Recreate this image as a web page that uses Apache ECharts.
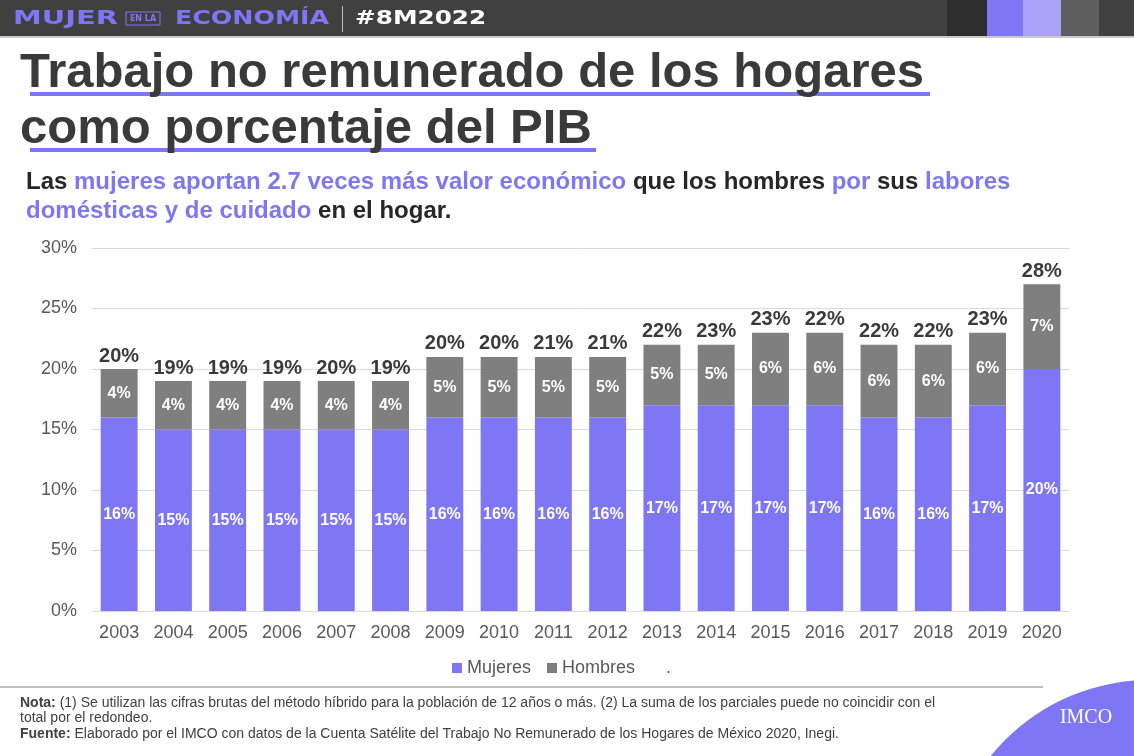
<!DOCTYPE html>
<html>
<head>
<meta charset="utf-8">
<script src="https://cdn.jsdelivr.net/npm/echarts@6/dist/echarts.min.js"></script>
<style>
  html, body { margin: 0; padding: 0; background: #fff; }
  #chart { width: 1134px; height: 756px; }
</style>
</head>
<body>
<div id="chart"></div>
<script>
// datos (% del PIB)
const years = ['2003', '2004', '2005', '2006', '2007', '2008', '2009', '2010', '2011',
  '2012', '2013', '2014', '2015', '2016', '2017', '2018', '2019', '2020'];
const mujeres = [16, 15, 15, 15, 15, 15, 16, 16, 16, 16, 17, 17, 17, 17, 16, 16, 17, 20];
const hombres = [4, 4, 4, 4, 4, 4, 5, 5, 5, 5, 5, 5, 6, 6, 6, 6, 6, 7];
const totales = [20, 19, 19, 19, 20, 19, 20, 20, 21, 21, 22, 23, 23, 22, 22, 22, 23, 28];

const morado = '#7F76F5';
const gris = '#7F7F7F';
const oscuro = '#3A3A3A';
const fuente = '"Liberation Sans", Arial, sans-serif';

const chart = echarts.init(document.getElementById('chart'));

const option = {
  backgroundColor: '#fff',
  animation: false,
  textStyle: { fontFamily: fuente },
  title: [
    {
      text: 'Trabajo no remunerado de los hogares\ncomo porcentaje del PIB',
      left: 20, top: 45, padding: 0, z: 10,
      textStyle: { fontSize: 49, fontWeight: 'bold', color: oscuro, lineHeight: 56, fontFamily: fuente }
    },
    {
      text: '{d|Las }{p|mujeres aportan 2.7 veces más valor económico}{d| que los hombres }{p|por}{d| sus }{p|labores}\n' +
        '{p|domésticas y de cuidado}{d| en el hogar.}',
      left: 26, top: 168, padding: 0,
      textStyle: {
        rich: {
          d: { fontSize: 24, fontWeight: 'bold', color: '#262626', lineHeight: 29, fontFamily: fuente },
          p: { fontSize: 24, fontWeight: 'bold', color: '#7F77F2', lineHeight: 29, fontFamily: fuente }
        }
      }
    },
    {
      text: '{b|Nota:} (1) Se utilizan las cifras brutas del método híbrido para la población de 12 años o más. (2) La suma de los parciales puede no coincidir con el\n' +
        'total por el redondeo.\n' +
        '{b|Fuente:} Elaborado por el IMCO con datos de la Cuenta Satélite del Trabajo No Remunerado de los Hogares de México 2020, Inegi.',
      left: 20, top: 695, padding: 0,
      textStyle: {
        fontSize: 14, color: '#404040', lineHeight: 15.5, fontWeight: 'normal', fontFamily: fuente,
        rich: {
          b: { fontSize: 14, fontWeight: 'bold', color: '#404040', lineHeight: 15.5, fontFamily: fuente }
        }
      }
    }
  ],
  legend: {
    data: ['Mujeres', 'Hombres', '.'],
    left: 447, top: 654,
    icon: 'rect', itemWidth: 10, itemHeight: 10, itemGap: 16,
    textStyle: { fontSize: 18, color: '#595959', fontFamily: fuente }
  },
  grid: { left: 92, right: 65, top: 248, bottom: 145 },
  xAxis: {
    type: 'category',
    data: years,
    axisLine: { lineStyle: { color: '#D9D9D9' } },
    axisTick: { show: false },
    axisLabel: { fontSize: 18, color: '#595959', margin: 13, fontFamily: fuente }
  },
  yAxis: {
    type: 'value',
    min: 0, max: 30, interval: 5,
    axisLine: { show: false },
    axisTick: { show: false },
    axisLabel: { formatter: '{value}%', fontSize: 18, color: '#595959', margin: 15, fontFamily: fuente },
    splitLine: { lineStyle: { color: '#D9D9D9' } }
  },
  series: [
    {
      name: 'Mujeres', type: 'bar', stack: 'pib', barWidth: '68%',
      data: mujeres,
      itemStyle: { color: morado },
      label: { show: true, position: 'inside', formatter: '{c}%', color: '#fff', fontSize: 16, fontWeight: 'bold', fontFamily: fuente }
    },
    {
      name: 'Hombres', type: 'bar', stack: 'pib', barWidth: '68%',
      data: hombres,
      itemStyle: { color: gris },
      label: { show: true, position: 'inside', formatter: '{c}%', color: '#fff', fontSize: 16, fontWeight: 'bold', fontFamily: fuente }
    },
    {
      // serie sin altura, solo lleva la etiqueta del total
      name: '.', type: 'bar', stack: 'pib', barWidth: '68%',
      data: totales.map(t => ({ value: 0, total: t })),
      itemStyle: { color: 'rgba(0,0,0,0)' },
      label: {
        show: true, position: 'top', distance: 3,
        formatter: p => totales[p.dataIndex] + '%',
        color: oscuro, fontSize: 20, fontWeight: 'bold', fontFamily: fuente
      }
    }
  ],
  graphic: [
    // barra superior
    { type: 'rect', z: 1, shape: { x: 0, y: 0, width: 1134, height: 36 }, style: { fill: '#404040' } },
    { type: 'rect', z: 1, shape: { x: 0, y: 36, width: 1134, height: 2 }, style: { fill: '#C9C9C9' } },
    { type: 'rect', z: 2, shape: { x: 947, y: 0, width: 40, height: 36 }, style: { fill: '#2E2E2E' } },
    { type: 'rect', z: 2, shape: { x: 987, y: 0, width: 36, height: 36 }, style: { fill: morado } },
    { type: 'rect', z: 2, shape: { x: 1023, y: 0, width: 38, height: 36 }, style: { fill: '#A8A2F8' } },
    { type: 'rect', z: 2, shape: { x: 1061, y: 0, width: 38, height: 36 }, style: { fill: '#5E5E5E' } },
    { type: 'text', z: 3, x: 13, y: 19, scaleX: 1.52,
      style: { text: 'MUJER', font: 'bold 19px "DejaVu Sans"', fill: morado, verticalAlign: 'middle' } },
    { type: 'rect', z: 3, shape: { x: 126, y: 12, width: 34, height: 13 }, style: { fill: 'none', stroke: morado, lineWidth: 1 } },
    { type: 'text', z: 3, x: 143, y: 19,
      style: { text: 'EN LA', font: 'bold 8px "DejaVu Sans"', fill: morado, align: 'center', verticalAlign: 'middle' } },
    { type: 'text', z: 3, x: 175, y: 19, scaleX: 1.33,
      style: { text: 'ECONOMÍA', font: 'bold 19px "DejaVu Sans"', fill: morado, verticalAlign: 'middle' } },
    { type: 'rect', z: 3, shape: { x: 342, y: 6, width: 1, height: 26 }, style: { fill: '#BFBFBF' } },
    { type: 'text', z: 3, x: 355, y: 19, scaleX: 1.3,
      style: { text: '#8M2022', font: 'bold 19px "DejaVu Sans"', fill: '#FFFFFF', verticalAlign: 'middle' } },
    // subrayado del titulo
    { type: 'rect', z: 1, shape: { x: 30, y: 92, width: 900, height: 4 }, style: { fill: morado } },
    { type: 'rect', z: 1, shape: { x: 30, y: 148, width: 566, height: 4 }, style: { fill: morado } },
    // pie
    { type: 'rect', z: 1, shape: { x: 0, y: 686, width: 1043, height: 2 }, style: { fill: '#BFBFBF' } },
    { type: 'circle', z: 2, shape: { cx: 1150, cy: 885, r: 205 }, style: { fill: morado } },
    { type: 'text', z: 3, x: 1086, y: 718,
      style: { text: 'IMCO', font: '20px "Liberation Serif"', fill: '#FFFFFF', align: 'center', verticalAlign: 'middle' } }
  ]
};

chart.setOption(option);
</script>
</body>
</html>
